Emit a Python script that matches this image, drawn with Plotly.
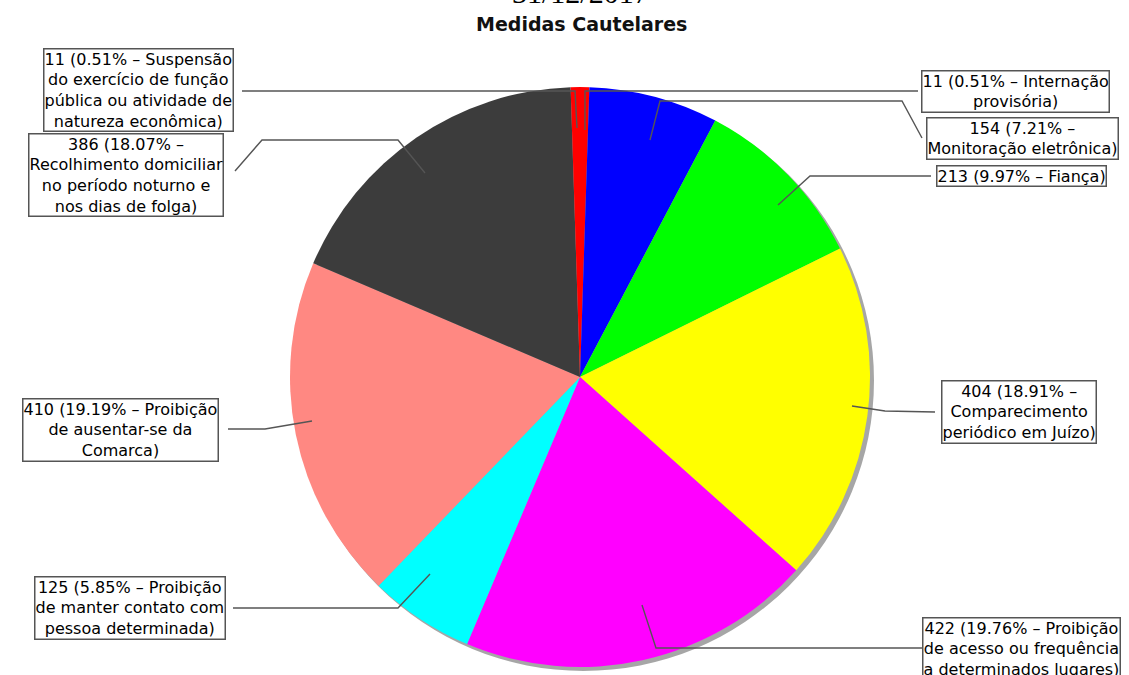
import plotly.graph_objects as go

W, H = 1129, 675

categories = [
    "Internação provisória",
    "Monitoração eletrônica",
    "Fiança",
    "Comparecimento periódico em Juízo",
    "Proibição de acesso ou frequência a determinados lugares",
    "Proibição de manter contato com pessoa determinada",
    "Proibição de ausentar-se da Comarca",
    "Recolhimento domiciliar no período noturno e nos dias de folga",
    "Suspensão do exercício de função pública ou atividade de natureza econômica",
]
values = [11, 154, 213, 404, 422, 125, 410, 386, 11]
colors = ["#ff0000", "#0000ff", "#00ff00", "#ffff00", "#ff00ff",
          "#00ffff", "#ff8882", "#3c3c3c", "#ff0000"]
label_templates = [
    "{v} ({p}% – Internação<br>provisória)",
    "{v} ({p}% –<br>Monitoração eletrônica)",
    "{v} ({p}% – Fiança)",
    "{v} ({p}% –<br>Comparecimento<br>periódico em Juízo)",
    "{v} ({p}% – Proibição<br>de acesso ou frequência<br>a determinados lugares)",
    "{v} ({p}% – Proibição<br>de manter contato com<br>pessoa determinada)",
    "{v} ({p}% – Proibição<br>de ausentar-se da<br>Comarca)",
    "{v} ({p}% –<br>Recolhimento domiciliar<br>no período noturno e<br>nos dias de folga)",
    "{v} ({p}% – Suspensão<br>do exercício de função<br>pública ou atividade de<br>natureza econômica)",
]
title_date = "31/12/2017"
title_main = "Medidas Cautelares"

# layout (pixel positions)
cx, cy, R = 580, 377, 290
box_pos = [  # (x, y, xanchor)
    (1015, 91, "center"),
    (1022, 138, "center"),
    (1021, 176, "center"),
    (1019, 412, "center"),
    (922, 649, "left"),
    (130, 608, "center"),
    (120, 430, "center"),
    (126, 175, "center"),
    (138, 90, "center"),
]
leader_paths = [
    [(918, 91), (585, 91), (585, 130)],
    [(922, 138), (902, 101), (660, 101), (650, 140)],
    [(931, 176), (810, 176), (778, 205)],
    [(935, 412), (885, 411), (852, 406)],
    [(922, 648), (656, 648), (642, 605)],
    [(233, 608), (398, 608), (430, 574)],
    [(228, 429), (265, 429), (312, 421)],
    [(235, 171), (262, 140), (398, 140), (425, 173)],
    [(242, 91), (575, 91), (577, 128)],
]


def px(x):
    return x / W


def py(y):
    return 1 - y / H


total = sum(values)

fig = go.Figure()
fig.add_trace(go.Pie(
    labels=categories,
    values=values,
    marker=dict(colors=colors, line=dict(width=0)),
    sort=False,
    direction="clockwise",
    rotation=0,
    textinfo="none",
    hole=0,
    showlegend=False,
    domain=dict(x=[px(cx - R), px(cx + R)], y=[py(cy + R), py(cy - R)]),
    hovertemplate="%{label}<br>%{value} (%{percent})<extra></extra>",
))

shapes = []
# soft shadow behind the pie
shapes.append(dict(type="circle", xref="paper", yref="paper", layer="below",
                   x0=px(cx - R + 3), x1=px(cx + R + 4),
                   y0=py(cy + R + 4), y1=py(cy - R + 3),
                   fillcolor="rgba(0,0,0,0.35)", line=dict(width=0)))
for pts in leader_paths:
    d = "M " + " L ".join(f"{px(x):.5f},{py(y):.5f}" for x, y in pts)
    shapes.append(dict(type="path", xref="paper", yref="paper", path=d,
                       line=dict(color="#555555", width=1.4)))

annotations = []
for v, tpl, (bx, by, xa) in zip(values, label_templates, box_pos):
    p = f"{100 * v / total:.2f}"
    annotations.append(dict(
        text=tpl.format(v=v, p=p), x=px(bx), y=py(by), xref="paper", yref="paper",
        xanchor=xa, yanchor="middle", showarrow=False, align="center",
        font=dict(family="DejaVu Sans", size=16, color="#000000"),
        bgcolor="white", bordercolor="#555555", borderwidth=1.5, borderpad=0,
    ))

annotations.append(dict(text=title_date, x=px(580), y=py(-8), xref="paper", yref="paper",
                        xanchor="center", yanchor="middle", showarrow=False,
                        font=dict(family="Liberation Serif", size=30, color="#000000")))
annotations.append(dict(text=f"<b>{title_main}</b>", x=px(581), y=py(24), xref="paper",
                        yref="paper", xanchor="center", yanchor="middle", showarrow=False,
                        font=dict(family="DejaVu Sans", size=19, color="#111111")))

fig.update_layout(
    width=W, height=H,
    margin=dict(l=0, r=0, t=0, b=0),
    paper_bgcolor="white", plot_bgcolor="white",
    shapes=shapes, annotations=annotations,
)

fig.write_html("out.html", config={"displayModeBar": False},
               post_script="document.body.style.margin='0';")
